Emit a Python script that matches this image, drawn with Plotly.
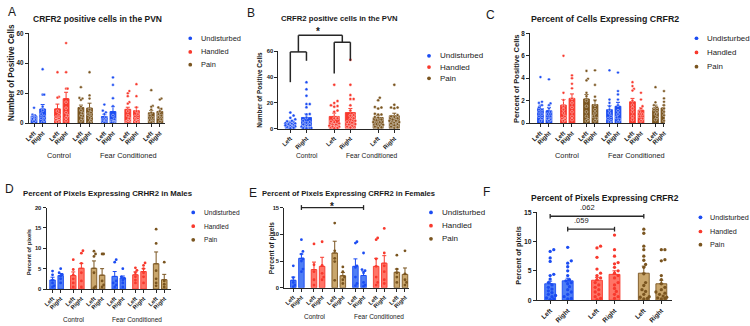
import plotly.graph_objects as go

W, H = 750, 326
FONT = "Liberation Sans, Arial, sans-serif"
AX = "#262626"
TXT = "#1a1a1a"

# ------------------------------------------------------------------ data
side_labels = ["Left", "Right"]
group_names = ["Undisturbed", "Handled", "Pain"]
condition_names = ["Control", "Fear Conditioned"]

# order for 12-bar panels: Control (Und L, Und R, Han L, Han R, Pain L, Pain R), then Fear Conditioned
a_means = [4.8, 9.4, 9.5, 16.3, 10.4, 10.0, 4.4, 7.7, 9.2, 8.3, 6.9, 7.8]
a_sem = [0.9, 3.0, 3.2, 4.3, 1.6, 3.3, 1.5, 3.3, 1.4, 2.3, 1.5, 1.9]
a_points = [
    [10.2, 5.6, 5.0, 4.6, 4.2, 3.8, 3.3, 2.8, 2.0, 1.2],
    [36.0, 19.0, 19.0, 11.0, 8.5, 6.0, 4.5, 3.2, 2.0, 0.5],
    [34.0, 17.5, 17.0, 8.0, 5.5, 4.0, 3.0, 2.2, 1.5, 0.8],
    [53.5, 34.0, 23.0, 23.0, 14.0, 10.0, 7.0, 5.0, 3.5, 1.5],
    [24.0, 16.8, 16.4, 15.5, 11.0, 8.5, 6.5, 5.0, 3.0, 1.5],
    [34.0, 18.5, 16.4, 9.0, 7.0, 6.0, 4.5, 3.5, 1.5, 0.5],
    [12.4, 8.3, 7.2, 6.0, 4.0, 2.5, 1.8, 1.2, 0.6, 0.3],
    [30.5, 25.5, 16.6, 11.3, 5.0, 2.5, 1.5, 0.8, 0.3, 0.2, 0.5, 0.4],
    [21.4, 19.9, 18.0, 14.0, 13.0, 8.0, 5.0, 3.0, 1.5, 0.8, 0.5, 0.3],
    [26.0, 18.0, 10.5, 8.0, 6.0, 4.5, 3.0, 2.0, 1.5, 0.8],
    [22.0, 11.5, 10.9, 9.0, 7.0, 5.0, 3.5, 2.0, 1.0, 0.5],
    [16.4, 15.7, 10.5, 9.5, 8.0, 6.0, 5.0, 4.0, 2.5, 1.0],
]

# panel B: sides pooled over conditions (Und L, Und R, Han L, Han R, Pain L, Pain R)
b_means = [4.7, 8.6, 9.4, 12.4, 8.6, 10.0]
b_sem = [1.0, 2.8, 2.6, 3.2, 1.5, 1.9]
b_points = [a_points[i] + a_points[i + 6] for i in range(6)]

c_means = [1.3, 1.1, 1.6, 2.2, 2.15, 1.65, 1.2, 1.5, 1.9, 1.15, 1.35, 1.35]
c_sem = [0.3, 0.3, 0.5, 0.4, 0.4, 0.4, 0.35, 0.35, 0.3, 0.2, 0.25, 0.25]
c_points = [
    [4.1, 1.9, 1.8, 1.6, 1.4, 1.2, 1.0, 0.8, 0.6, 0.4, 0.2],
    [3.9, 1.75, 1.6, 1.3, 1.0, 0.8, 0.6, 0.4, 0.3, 0.2],
    [6.0, 2.7, 2.05, 1.5, 1.2, 0.9, 0.6, 0.4, 0.3, 0.2],
    [4.25, 4.0, 3.5, 3.1, 2.2, 1.8, 1.4, 1.0, 0.6, 0.3],
    [4.65, 3.95, 3.8, 2.7, 2.4, 2.0, 1.5, 1.0, 0.6, 0.3, 0.2],
    [4.7, 3.4, 2.35, 2.0, 1.6, 1.2, 0.9, 0.6, 0.4, 0.2],
    [4.7, 2.1, 1.8, 1.5, 1.2, 0.9, 0.6, 0.4, 0.2, 0.1],
    [4.5, 2.85, 2.55, 2.1, 1.6, 1.1, 0.8, 0.5, 0.3, 0.1],
    [3.65, 3.3, 3.05, 2.9, 2.0, 1.6, 1.3, 1.0, 0.6, 0.3],
    [2.7, 2.1, 1.5, 1.3, 1.0, 0.8, 0.6, 0.4, 0.2],
    [3.2, 1.85, 1.6, 1.4, 1.2, 1.0, 0.8, 0.5, 0.3],
    [2.85, 2.2, 1.9, 1.6, 1.3, 1.0, 0.7, 0.4, 0.2],
]

d_means = [2.2, 3.3, 3.3, 5.1, 5.1, 3.4, 3.1, 2.7, 3.5, 4.3, 6.2, 2.3]
d_sem = [0.7, 0.5, 0.9, 1.2, 1.8, 1.6, 1.2, 0.5, 0.7, 0.7, 2.9, 1.3]
d_points = [
    [4.4, 3.5, 2.2, 1.5, 0.8, 0.5],
    [5.0, 4.0, 3.6, 3.2, 2.5, 1.5],
    [7.2, 4.8, 3.5, 2.5, 1.5, 0.5],
    [9.4, 8.8, 6.3, 4.0, 2.0, 0.5],
    [9.3, 8.6, 8.0, 4.0, 0.6, 0.3],
    [8.6, 8.6, 2.0, 1.0, 0.5],
    [7.2, 6.6, 2.0, 1.5, 1.0, 0.5],
    [5.0, 3.0, 2.6, 2.2, 1.5, 0.5],
    [5.2, 4.6, 4.0, 3.0, 2.2, 1.5],
    [6.4, 5.8, 5.0, 4.0, 3.0, 1.5],
    [14.7, 11.2, 4.5, 2.5, 1.5, 0.8],
    [6.6, 2.0, 1.2, 0.5],
]

e_means = [1.4, 5.5, 3.4, 4.0, 6.5, 2.25, 4.0, 2.3, 4.0, 4.6, 2.9, 2.5]
e_sem = [0.6, 0.8, 1.4, 1.7, 2.2, 0.6, 1.4, 0.8, 1.5, 1.4, 0.6, 1.2]
e_points = [
    [4.1, 1.9, 1.0, 0.5, 0.2],
    [9.0, 6.8, 6.3, 5.4, 5.0, 3.5, 3.0],
    [8.2, 4.3, 3.0, 1.5, 0.5],
    [8.6, 4.2, 2.7, 2.0, 1.5],
    [12.1, 6.9, 4.9, 5.5, 1.4],
    [3.9, 3.0, 2.0, 1.5, 0.8],
    [8.6, 8.35, 4.1, 3.8, 2.0, 0.8, 0.4],
    [6.5, 3.4, 3.2, 2.8, 1.0, 0.5, 0.3],
    [9.3, 9.0, 5.4, 4.0, 2.0, 1.0, 0.5],
    [11.1, 6.5, 4.1, 3.0, 1.5, 0.8],
    [6.1, 3.5, 2.8, 2.0, 1.0],
    [6.9, 2.6, 1.5, 1.0, 0.5],
]

f_means = [2.8, 3.3, 3.4, 4.4, 4.6, 2.8]
f_sem = [0.45, 0.45, 0.5, 0.6, 1.2, 0.6]
f_points = [
    [8.6, 8.3, 7.2, 6.6, 4.4, 4.2, 3.6, 3.0, 2.6, 2.2, 1.9, 1.6, 1.3, 1.0, 0.8, 0.6, 0.4, 0.2, 0.1],
    [9.0, 6.7, 6.3, 5.7, 5.0, 4.2, 3.5, 3.3, 3.0, 2.8, 2.3, 1.8, 1.4, 1.0, 0.6, 0.3, 0.2],
    [9.2, 8.9, 7.3, 5.3, 4.6, 4.2, 3.8, 3.5, 3.0, 2.6, 2.2, 1.8, 1.4, 1.0, 0.6, 0.3, 0.1],
    [11.1, 8.6, 7.5, 6.4, 6.2, 5.6, 5.0, 4.6, 4.2, 3.8, 3.0, 2.6, 2.0, 1.5, 1.0, 0.6, 0.3],
    [12.1, 11.4, 9.2, 8.6, 7.5, 6.8, 6.1, 5.6, 4.5, 3.0, 2.5, 1.8, 1.5, 1.0, 0.6, 0.5, 0.3, 0.2],
    [8.6, 8.6, 6.9, 6.7, 4.2, 3.5, 2.8, 2.2, 1.8, 1.4, 1.2, 1.0, 0.7, 0.5, 0.4, 0.3, 0.2],
]

f_pvalues = [".062", ".059"]

# ------------------------------------------------------------------ styling
PT = ["#1b4cf2", "#f8392d", "#7a5520"]
FILL2 = ["#4f7ef5", "#ff7466", "#c9a66c"]

panels = {
    "A": dict(n=1, axL=24, axR=162, y0=121.7, yt=30, ymax=60, yt_vals=[0, 20, 40, 60],
              x0=29.3, kx=8.7, gap=2.72, bw=0.68, ms=2.8, row2=False,
              means=a_means, sem=a_sem, pts=a_points, tick=6.3, xtick=6.2),
    "B": dict(n=2, axL=276, axR=399, y0=127.3, yt=48.3, ymax=60, yt_vals=[0, 20, 40, 60],
              x0=288, kx=16.3, gap=2.72, bw=0.62, ms=3.0, row2=False,
              means=b_means, sem=b_sem, pts=b_points, tick=5.8, xtick=6.0),
    "C": dict(n=3, axL=530, axR=666, y0=121.7, yt=30, ymax=8, yt_vals=[0, 2, 4, 6, 8],
              x0=540.5, kx=8.6, gap=2.7, bw=0.68, ms=2.8, row2=False,
              means=c_means, sem=c_sem, pts=c_points, tick=6.3, xtick=6.2),
    "D": dict(n=4, axL=42, axR=168, y0=291.3, yt=208, ymax=20, yt_vals=[0, 5, 10, 15, 20],
              x0=48, kx=8.2, gap=2.55, bw=0.68, ms=2.8, row2=True,
              means=d_means, sem=d_sem, pts=d_points, tick=5.8, xtick=5.8),
    "E": dict(n=5, axL=282, axR=408, y0=290, yt=208, ymax=15, yt_vals=[0, 5, 10, 15],
              x0=291, kx=8.2, gap=2.55, bw=0.68, ms=2.8, row2=True,
              means=e_means, sem=e_sem, pts=e_points, tick=5.8, xtick=5.8),
    "F": dict(n=6, axL=537, axR=673, y0=302.7, yt=212.7, ymax=15, yt_vals=[0, 5, 10, 15],
              x0=550.3, kx=17.7, gap=2.67, bw=0.62, ms=3.3, row2=True,
              means=f_means, sem=f_sem, pts=f_points, tick=6.8, xtick=6.5),
}


def px(x):
    return x / W


def py(y):
    return 1 - y / H


def positions(ncat, gap):
    pos, grp = [], []
    for i in range(ncat):
        if ncat == 12:
            cond, g, s = i // 6, (i % 6) // 2, i % 2
            p = cond * 3 + g
        else:
            g, s = i // 2, i % 2
            p = g
        pos.append(p * gap + s)
        grp.append(g)
    return pos, grp


def swarm(vals, kx, ky, d, halfw):
    order = sorted(range(len(vals)), key=lambda i: vals[i])
    placed = []
    off = [0.0] * len(vals)
    step = d * 0.55
    cands = [0.0]
    k = 1
    while k * step <= halfw:
        cands += [k * step, -k * step]
        k += 1
    for i in order:
        y = vals[i] * ky
        best, bestd = 0.0, -1.0
        for c in cands:
            md = min([((c - a) ** 2 + (y - b) ** 2) ** 0.5 for a, b in placed] or [1e9])
            if md >= d:
                best = c
                break
            if md > bestd:
                bestd, best = md, c
        placed.append((best, y))
        off[i] = best / kx
    return off


fig = go.Figure()
layout = dict(width=W, height=H, margin=dict(l=0, r=0, t=0, b=0),
              paper_bgcolor="white", plot_bgcolor="white", barmode="overlay",
              showlegend=False, font=dict(family=FONT, color=TXT))
annotations, shapes = [], []

for key, sp in panels.items():
    sfx = "" if sp["n"] == 1 else str(sp["n"])
    xa, ya = "x" + sfx, "y" + sfx
    ncat = len(sp["means"])
    pos, grp = positions(ncat, sp["gap"])
    sp["pos"] = pos
    ky = (sp["y0"] - sp["yt"]) / sp["ymax"]
    sp["ky"] = ky
    for g in range(3):
        idx = [i for i in range(ncat) if grp[i] == g]
        fill = FILL2[g] if sp["row2"] else PT[g]
        fig.add_trace(go.Bar(
            x=[pos[i] for i in idx], y=[sp["means"][i] for i in idx], width=sp["bw"],
            marker=dict(color=fill, line=dict(color=PT[g], width=0.9)),
            error_y=dict(type="data", symmetric=False, array=[sp["sem"][i] for i in idx],
                         arrayminus=[0] * len(idx), color=PT[g], thickness=1, width=2),
            xaxis=xa, yaxis=ya, hoverinfo="skip"))
    for g in range(3):
        idx = [i for i in range(ncat) if grp[i] == g]
        xs, ys = [], []
        for i in idx:
            offs = swarm(sp["pts"][i], sp["kx"], ky, sp["ms"], sp["bw"] * sp["kx"] * 0.5)
            xs += [pos[i] + o for o in offs]
            ys += sp["pts"][i]
        fig.add_trace(go.Scatter(
            x=xs, y=ys, mode="markers", cliponaxis=False, xaxis=xa, yaxis=ya, hoverinfo="skip",
            marker=dict(size=sp["ms"], color=PT[g],
                        line=dict(color="rgba(255,255,255,0.8)", width=0 if sp["row2"] else 0.5))))
    xr = [(sp["axL"] - sp["x0"]) / sp["kx"], (sp["axR"] - sp["x0"]) / sp["kx"]]
    sp["xr"] = xr
    layout["xaxis" + sfx] = dict(
        domain=[px(sp["axL"]), px(sp["axR"])], range=xr, anchor=ya,
        showline=True, linecolor=AX, linewidth=1.2, ticks="outside", ticklen=3, tickwidth=1,
        tickcolor=AX, tickvals=pos, ticktext=[side_labels[i % 2] for i in range(ncat)],
        tickangle=-45, tickfont=dict(family=FONT, size=sp["xtick"], color=TXT, weight="bold"),
        showgrid=False, zeroline=False, fixedrange=True)
    layout["yaxis" + sfx] = dict(
        domain=[py(sp["y0"]), py(sp["yt"])], range=[0, sp["ymax"]], anchor=xa,
        showline=True, linecolor=AX, linewidth=1.2, ticks="outside", ticklen=3, tickwidth=1,
        tickcolor=AX, tickvals=sp["yt_vals"],
        tickfont=dict(family=FONT, size=sp["tick"], color=TXT, weight="bold"),
        showgrid=False, zeroline=False, fixedrange=True)


def xdata(key, xv):
    sp = panels[key]
    return px(sp["axL"]) + (xv - sp["xr"][0]) / (sp["xr"][1] - sp["xr"][0]) * (px(sp["axR"]) - px(sp["axL"]))


def ydata(key, yv):
    sp = panels[key]
    return py(sp["y0"] - yv * sp["ky"])


def text(x, y, s, size, bold=False, xanchor="center", angle=0):
    annotations.append(dict(x=px(x), y=py(y), xref="paper", yref="paper", text=s, showarrow=False,
                            xanchor=xanchor, yanchor="middle", textangle=angle,
                            font=dict(family=FONT, size=size, color=TXT,
                                      weight="bold" if bold else "normal")))


def line(x0, y0, x1, y1, w=1.5):
    shapes.append(dict(type="line", xref="paper", yref="paper", x0=x0, y0=y0, x1=x1, y1=y1,
                       line=dict(color=AX, width=w)))


def star(xpaper, ypx_glyph, size=11):
    annotations.append(dict(x=xpaper, y=py(ypx_glyph + 0.36 * size), xref="paper", yref="paper",
                            text="*", showarrow=False, yanchor="middle",
                            font=dict(family=FONT, size=size, color=TXT, weight="bold")))


# titles
titles = {
    "A": ("CRFR2 positive cells in the PVN", 93, 15, 8.5),
    "B": ("CRFR2 positive cells in the PVN", 338, 15, 7.7),
    "C": ("Percent of Cells Expressing CRFR2", 606, 15, 8.8),
    "D": ("Percent of Pixels Expressing CRHR2 in Males", 104, 194, 7.8),
    "E": ("Percent of Pixels Expressing CRFR2 in Females", 347, 194, 7.6),
    "F": ("Percent of Pixels Expressing CRFR2", 606, 198, 8.5),
}
for k, (s, x, y, fs) in titles.items():
    text(x, y, s, fs, bold=True)

# panel letters
letters = {"A": (7.5, 8), "B": (248, 9.5), "C": (490, 11), "D": (4.5, 189.5), "E": (250, 193), "F": (486.5, 192.5)}
for k, (x, y) in letters.items():
    text(x, y, k, 12)

# y axis titles
ytitles = {
    "A": ("Number of Positive Cells", 6.5, 70, 8.2),
    "B": ("Number of Positive Cells", 257, 88, 6.4),
    "C": ("Percent of Positive Cells", 516.5, 76, 7.6),
    "D": ("Percent of pixels", 24, 254, 5.8),
    "E": ("Percent of pixels", 269, 249, 6.5),
    "F": ("Percent of pixels", 518.5, 257.5, 7.3),
}
for k, (s, x, y, fs) in ytitles.items():
    text(x, y, s, fs, bold=True, angle=-90)

# condition labels
cond_pos = {
    "A": ((55, 155), (125, 155), 7.4),
    "B": ((305, 155), (370, 155), 6.7),
    "C": ((567, 155), (637, 155), 7.4),
    "D": ((70, 322), (133, 322), 6.5),
    "E": ((313, 319), (378, 319), 6.5),
}
for k, (p1, p2, fs) in cond_pos.items():
    text(p1[0], p1[1], condition_names[0], fs)
    text(p2[0], p2[1], condition_names[1], fs)

# legends
legends = {
    "A": (187, 196, [35, 49, 62], 7.4),
    "B": (428, 437, [53, 64.5, 76], 8.0),
    "C": (698, 707, [35, 49.5, 64], 7.9),
    "D": (190, 198.5, [213, 227, 241], 6.6),
    "E": (430, 439, [213, 226.5, 240], 8.0),
    "F": (702, 709.5, [218, 232.5, 246], 7.2),
}
for k, (mx, tx, ys, fs) in legends.items():
    for g in range(3):
        r = 1.9
        shapes.append(dict(type="circle", xref="paper", yref="paper",
                           x0=px(mx - r), x1=px(mx + r), y0=py(ys[g] + r), y1=py(ys[g] - r),
                           fillcolor=PT[g], line=dict(width=0)))
        text(tx, ys[g], group_names[g], fs, xanchor="left")

# panel B brackets (pooled sides)
bp = panels["B"]["pos"]
lc, rc = (bp[0] + bp[1]) / 2, (bp[2] + bp[3]) / 2
line(xdata("B", bp[0]), ydata("B", 36), xdata("B", bp[0]), ydata("B", 59.5))
line(xdata("B", bp[1]), ydata("B", 52.6), xdata("B", bp[1]), ydata("B", 59.5))
line(xdata("B", bp[0]), ydata("B", 59.5), xdata("B", bp[1]), ydata("B", 59.5))
line(xdata("B", bp[2]), ydata("B", 42.7), xdata("B", bp[2]), ydata("B", 67))
line(xdata("B", bp[3]), ydata("B", 52.6), xdata("B", bp[3]), ydata("B", 67))
line(xdata("B", bp[2]), ydata("B", 67), xdata("B", bp[3]), ydata("B", 67))
line(xdata("B", lc), ydata("B", 59.5), xdata("B", lc), ydata("B", 72.4))
line(xdata("B", rc), ydata("B", 67), xdata("B", rc), ydata("B", 72.4))
line(xdata("B", lc), ydata("B", 72.4), xdata("B", rc), ydata("B", 72.4))
star(xdata("B", (lc + rc) / 2) - px(2), 25, 10)

# panel E bracket
ep = panels["E"]["pos"]
ey = 15
line(xdata("E", ep[1]), ydata("E", ey), xdata("E", ep[7]), ydata("E", ey), 1.3)
for xi in (ep[1], ep[7]):
    line(xdata("E", xi), ydata("E", ey - 0.45), xdata("E", xi), ydata("E", ey + 0.45), 1.3)
star(xdata("E", (ep[1] + ep[7]) / 2), 203, 10)

# panel F brackets
fp = panels["F"]["pos"]
for (i0, i1, yv, lab) in [(0, 4, 14.3, f_pvalues[0]), (1, 3, 12.1, f_pvalues[1])]:
    line(xdata("F", fp[i0]), ydata("F", yv), xdata("F", fp[i1]), ydata("F", yv), 1.3)
    for xi in (fp[i0], fp[i1]):
        line(xdata("F", xi), ydata("F", yv - 0.4), xdata("F", xi), ydata("F", yv + 0.4), 1.3)
    annotations.append(dict(x=xdata("F", (fp[i0] + fp[i1]) / 2), y=ydata("F", yv + 0.35), xref="paper",
                            yref="paper", text=lab, showarrow=False, yanchor="bottom",
                            font=dict(family=FONT, size=7.5, color=TXT)))

layout["annotations"] = annotations
layout["shapes"] = shapes
fig.update_layout(**layout)
fig.write_html("out.html")
